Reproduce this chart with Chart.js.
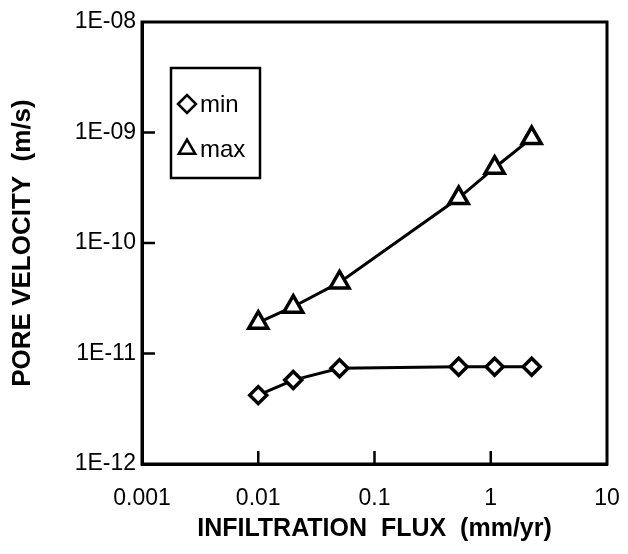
<!DOCTYPE html>
<html>
<head>
<meta charset="utf-8">
<script src="https://cdn.jsdelivr.net/npm/chart.js@4"></script>
<style>
  html, body { margin: 0; padding: 0; background: #fff; }
</style>
</head>
<body>
<canvas id="poreChart" width="628" height="554"></canvas>
<script>
// data
var flux = [0.01, 0.02, 0.05, 0.53, 1.08, 2.25];
var velMin = [4.2e-12, 5.75e-12, 7.35e-12, 7.6e-12, 7.6e-12, 7.6e-12];
var velMax = [1.9e-11, 2.65e-11, 4.4e-11, 2.55e-10, 4.8e-10, 8.9e-10];
var xTicks = [0.001, 0.01, 0.1, 1, 10];
var xTickLabels = ["0.001", "0.01", "0.1", "1", "10"];
var yTicks = [1e-12, 1e-11, 1e-10, 1e-9, 1e-8];
var yTickLabels = ["1E-12", "1E-11", "1E-10", "1E-09", "1E-08"];
var seriesNames = ["min", "max"];

var FONT = "'Liberation Sans', Arial, Helvetica, sans-serif";

// frame on all four sides + decade ticks pointing inwards
var framePlugin = {
  id: "frame",
  afterDatasetsDraw: function(chart) {
    var ctx = chart.ctx, a = chart.chartArea;
    var xs = chart.scales.x, ys = chart.scales.y;
    ctx.save();
    ctx.strokeStyle = "#000";
    ctx.lineWidth = 3;
    ctx.strokeRect(a.left, a.top, a.right - a.left, a.bottom - a.top);
    ctx.lineWidth = 2.5;
    ctx.beginPath();
    xTicks.slice(1, -1).forEach(function(v) {
      var px = xs.getPixelForValue(v);
      ctx.moveTo(px, a.bottom);
      ctx.lineTo(px, a.bottom - 13);
    });
    yTicks.slice(1, -1).forEach(function(v) {
      var py = ys.getPixelForValue(v);
      ctx.moveTo(a.left, py);
      ctx.lineTo(a.left + 13, py);
    });
    ctx.stroke();
    ctx.restore();
  }
};

// boxed legend sitting inside the plot
var boxLegendPlugin = {
  id: "boxLegend",
  afterDraw: function(chart) {
    var ctx = chart.ctx;
    var box = { x: 171, y: 68, w: 89, h: 110 };
    ctx.save();
    ctx.fillStyle = "#fff";
    ctx.fillRect(box.x, box.y, box.w, box.h);
    ctx.strokeStyle = "#000";
    ctx.lineWidth = 2.5;
    ctx.strokeRect(box.x, box.y, box.w, box.h);
    var rows = [104, 149];
    chart.data.datasets.forEach(function(ds, i) {
      ctx.fillStyle = "#fff";
      ctx.strokeStyle = "#000";
      Chart.helpers.drawPoint(ctx, {
        pointStyle: ds.pointStyle,
        radius: ds.pointStyle === "triangle" ? 9.5 : 9,
        borderWidth: 4,
        rotation: 0
      }, 187, rows[i]);
      ctx.fillStyle = "#000";
      ctx.font = "24px " + FONT;
      ctx.textBaseline = "middle";
      ctx.textAlign = "left";
      ctx.fillText(ds.label, 200, rows[i] + 1);
    });
    ctx.restore();
  }
};

var canvas = document.getElementById("poreChart");
var poreChart = new Chart(canvas, {
  type: "line",
  data: {
    datasets: [{
      label: seriesNames[0],
      data: flux.map(function(f, i) { return { x: f, y: velMin[i] }; }),
      borderColor: "#000",
      borderWidth: 3,
      pointStyle: "rectRot",
      pointRadius: 8.5,
      pointBorderWidth: 3.5,
      pointBackgroundColor: "#fff",
      pointBorderColor: "#000",
      tension: 0
    }, {
      label: seriesNames[1],
      data: flux.map(function(f, i) { return { x: f, y: velMax[i] }; }),
      borderColor: "#000",
      borderWidth: 3,
      pointStyle: "triangle",
      pointRadius: 11,
      pointBorderWidth: 3.5,
      pointBackgroundColor: "#fff",
      pointBorderColor: "#000",
      tension: 0
    }]
  },
  options: {
    responsive: false,
    animation: false,
    devicePixelRatio: 1,
    layout: { padding: { top: 22, right: 21, left: 0, bottom: 0 } },
    plugins: {
      legend: { display: false },
      tooltip: { enabled: false }
    },
    scales: {
      x: {
        type: "logarithmic",
        min: 0.001,
        max: 10,
        afterBuildTicks: function(s) { s.ticks = xTicks.map(function(v) { return { value: v }; }); },
        afterFit: function(s) { s.height = 90; s.paddingLeft = 0; s.paddingRight = 0; },
        ticks: {
          autoSkip: false,
          maxRotation: 0,
          padding: 21,
          color: "#000",
          font: { family: FONT, size: 23 },
          callback: function(v) { return xTickLabels[xTicks.indexOf(v)]; }
        },
        grid: { display: true, drawOnChartArea: false, drawTicks: false },
        border: { display: true, color: "#000", width: 3 },
        title: {
          display: true,
          text: "INFILTRATION  FLUX  (mm/yr)",
          color: "#000",
          font: { family: FONT, size: 25, weight: "bold", lineHeight: 1 },
          padding: { top: 0, bottom: 12 }
        }
      },
      y: {
        type: "logarithmic",
        min: 1e-12,
        max: 1e-8,
        afterBuildTicks: function(s) { s.ticks = yTicks.map(function(v) { return { value: v }; }); },
        afterFit: function(s) { s.width = 142; s.paddingTop = 0; s.paddingBottom = 0; },
        ticks: {
          autoSkip: false,
          padding: 6,
          color: "#000",
          font: { family: FONT, size: 23 },
          callback: function(v) { return yTickLabels[yTicks.indexOf(v)]; }
        },
        grid: { display: true, drawOnChartArea: false, drawTicks: false },
        border: { display: true, color: "#000", width: 3 },
        title: {
          display: true,
          text: "PORE VELOCITY  (m/s)",
          color: "#000",
          font: { family: FONT, size: 26, weight: "bold", lineHeight: 1 },
          padding: { top: 10, bottom: 0 }
        }
      }
    }
  },
  plugins: [framePlugin, boxLegendPlugin]
});
</script>
</body>
</html>
